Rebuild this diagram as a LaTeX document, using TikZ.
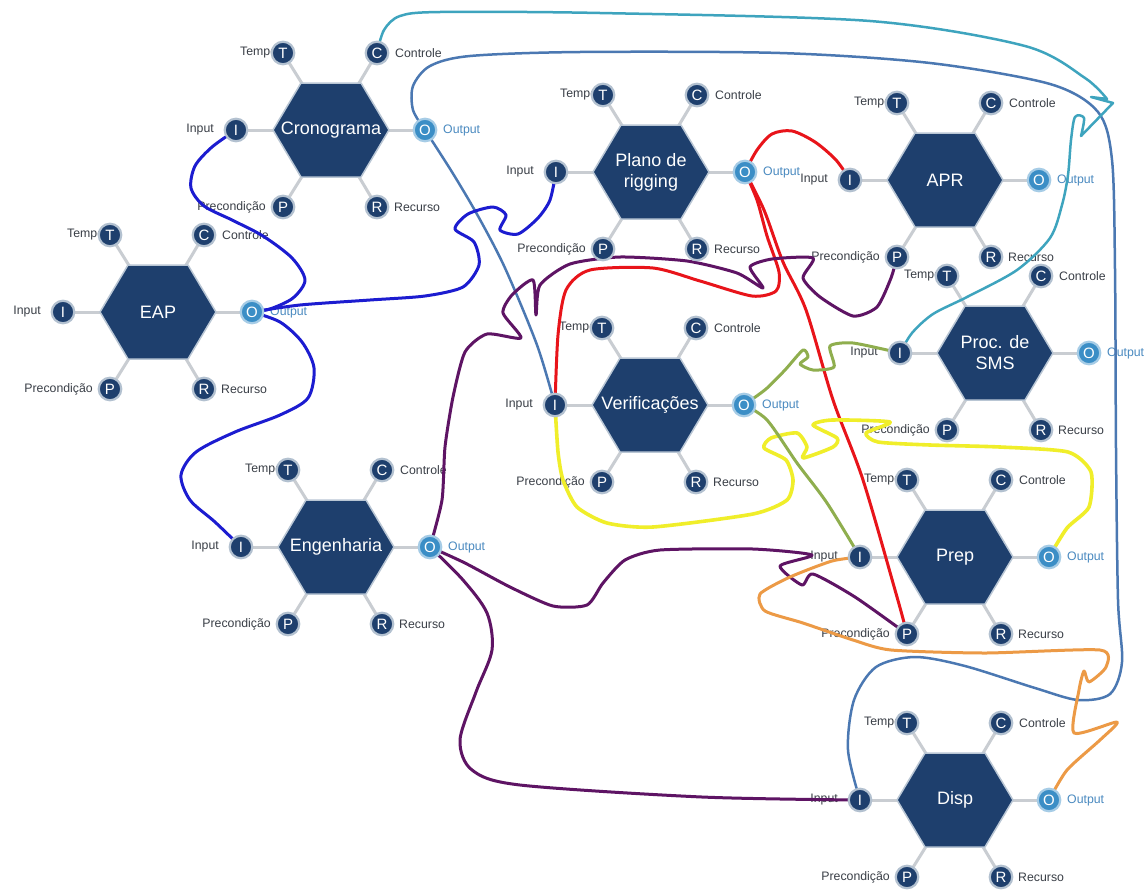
\documentclass[tikz,border=0pt]{standalone}
\usepackage{fontspec}
\setmainfont{Liberation Sans}

\pgfdeclarelayer{fg}
\pgfsetlayers{main,fg}

\definecolor{fnavy}{HTML}{1E3F6D}
\definecolor{hexrim}{HTML}{B9C6D4}
\definecolor{ringgray}{HTML}{B3C1D0}
\definecolor{outblue}{HTML}{3B8EC6}
\definecolor{outring}{HTML}{A6CCE6}
\definecolor{spokegray}{HTML}{C9CDD2}
\definecolor{lblgray}{HTML}{3A3F47}
\definecolor{outtxt}{HTML}{4A8AC0}
\definecolor{wblue}{HTML}{1C1CD0}
\definecolor{wsteel}{HTML}{4B78B2}
\definecolor{wteal}{HTML}{3EA4BE}
\definecolor{wred}{HTML}{E8141A}
\definecolor{wpurple}{HTML}{5E1464}
\definecolor{wyellow}{HTML}{F0EE2A}
\definecolor{wolive}{HTML}{8FAE4E}
\definecolor{worange}{HTML}{EC9A46}

\tikzset{
  spoke/.style={draw=spokegray, line width=3pt},
  hexa/.style={fill=fnavy, draw=hexrim, line width=1.5pt, line join=round},
  asp/.style={circle, fill=fnavy, draw=ringgray, line width=2.2pt, minimum size=22.5pt,
    inner sep=0pt, text=white, font=\fontsize{15}{15}\selectfont},
  aspo/.style={asp, fill=outblue, draw=outring},
  lbl/.style={font=\fontsize{12.3}{13}\selectfont, text=lblgray, inner sep=0pt},
  olbl/.style={lbl, text=outtxt},
  fname/.style={text=white, font=\fontsize{18}{21}\selectfont, align=center, inner sep=0pt},
  wire/.style={line width=3pt, line cap=round, line join=round},
  thinwire/.style={wire, line width=2.5pt},
}

% one function: hexagon, six aspect circles and their labels
% #1 name, #2 x, #3 y, #4 title
\newcommand\framfn[4]{%
  \begin{scope}[shift={(#2,#3)}]
    \foreach \sx/\sy in {-95/0, 94/0, -48/-77, 46/-77, -48/77, 46/77}
      \draw[spoke] (0,0) -- (\sx,\sy);
    \filldraw[hexa] (-58,0) -- (-30,-47) -- (30,-47) -- (58,0) -- (30,47) -- (-30,47) -- cycle;
    \node[fname] (#1) at (0,0) {#4};
    \node[lbl, anchor=east] (#1Il) at (-117,0) {Input};
    \node[olbl, anchor=west] (#1Ol) at (112,0) {Output};
    \node[lbl, anchor=west] (#1Tl) at (-91,-77) {Tempo};
    \node[lbl, anchor=west] (#1Cl) at (64,-77) {Controle};
    \node[lbl, anchor=east] (#1Pl) at (-65,77) {Precondição};
    \node[lbl, anchor=west] (#1Rl) at (63,77) {Recurso};
    \begin{pgfonlayer}{fg}
      \node[asp]  (#1I) at (-95,0)  {I};
      \node[aspo] (#1O) at (94,0)   {O};
      \node[asp]  (#1T) at (-48,-77) {T};
      \node[asp]  (#1C) at (46,-77) {C};
      \node[asp]  (#1P) at (-48,77) {P};
      \node[asp]  (#1R) at (46,77)  {R};
    \end{pgfonlayer}
  \end{scope}}

\begin{document}
\begin{tikzpicture}[x=1pt, y=-1pt]
\fill[white] (0,0) rectangle (1147,889);
\useasboundingbox (0,0) rectangle (1147,889);

\framfn{crono}{331}{130}{Cronograma}
\framfn{eap}{158}{312}{EAP}
\framfn{plano}{651}{172}{Plano de\\rigging}
\framfn{apr}{945}{180}{APR}
\framfn{sms}{995}{353}{Proc. de\\SMS}
\framfn{ver}{650}{405}{Verificações}
\framfn{eng}{336}{547}{Engenharia}
\framfn{prep}{955}{557}{Prep}
\framfn{disp}{955}{800}{Disp}

% Cronograma output to Disp input, around the top and right side
\draw[thinwire, wsteel] plot[smooth] coordinates {(cronoO) (413,110) (413,86) (430,66) (470,56)
  (580,52) (780,53) (930,63) (1050,84) (1098,112) (1112,160) (1115,270) (1116,450)
  (1118,600) (1122,662) (1110,694) (1078,700) (1035,688) (965,666) (915,657) (876,667)
  (854,700) (848,750) (dispI)};
% Cronograma output to Verificacoes input
\draw[thinwire, wsteel] plot[smooth] coordinates {(cronoO) (452,172) (478,216) (505,268)
  (537,345) (verI)};
% Cronograma control to Proc. de SMS input, with a hand-drawn arrowhead
\draw[thinwire, wteal] plot[smooth] coordinates {(cronoC) (384,30) (400,16) (440,12) (600,13)
  (870,21) (1025,46) (1085,78) (1107,99)} -- (1091,97) -- (1113,103) -- (1081,136)
  -- plot[smooth] coordinates {(1081,136) (1084,118) (1075,117) (1071,140) (1068,175)
  (1062,205) (1050,238) (1017,270) (967,297) (933,314) (912,333) (smsI)};

% EAP links
\draw[wire, wblue] plot[smooth] coordinates {(cronoI) (212,147) (195,166) (191,188) (204,206)
  (232,220) (263,236) (292,258) (305,280) (293,298) (270,309) (eapO)};
\draw[wire, wblue] plot[smooth, tension=0.45] coordinates {(eapO) (300,305) (370,300) (425,296)
  (463,287) (479,265) (474,242) (455,229) (468,214) (493,207) (506,215) (500,230)
  (518,234) (538,218) (550,200) (planoI)};
\draw[wire, wblue] plot[smooth] coordinates {(eapO) (280,322) (302,342) (314,368) (308,398)
  (280,415) (235,432) (196,452) (181,475) (190,500) (215,522) (engI)};

% Plano de rigging output
\draw[wire, wred] plot[smooth] coordinates {(planoO) (757,150) (772,134) (792,131) (815,142)
  (836,160) (aprI)};
\draw[wire, wred] plot[smooth, tension=0.45] coordinates {(planoO) (757,200) (767,236) (779,272)
  (776,291) (752,296) (700,281) (653,268) (590,270) (566,290) (558,335) (verI)};
\draw[wire, wred] plot[smooth] coordinates {(planoO) (764,210) (783,262) (806,310) (833,400)
  (863,480) (897,597) (prepP)};

% Engenharia output
\draw[wire, wpurple] plot[smooth, tension=0.4] coordinates {(engO) (442,500) (445,447) (453,397)
  (465,352) (487,334) (521,338) (503,313) (512,295) (533,280) (536,315) (540,285)
  (570,264) (620,257) (687,261) (737,273) (763,288) (750,267) (772,259) (813,258)
  (803,278) (820,297) (853,316) (877,307) (891,278) (aprP)};
\draw[wire, wpurple] plot[smooth, tension=0.4] coordinates {(engO) (465,563) (510,587) (553,606)
  (587,605) (603,583) (625,560) (660,550) (753,549) (812,555) (780,566) (802,585)
  (813,574) (855,597) (prepP)};
\draw[wire, wpurple] plot[smooth] coordinates {(engO) (463,580) (487,613) (492,650) (476,692)
  (460,740) (472,770) (520,785) (702,797) (dispI)};

% Verificacoes links
\draw[wire, wyellow, line width=3.6pt] plot[smooth, tension=0.4] coordinates {(verI) (558,452)
  (563,480) (577,507) (607,523) (653,527) (753,514) (787,500) (793,480) (786,460)
  (764,448) (771,438) (797,433) (807,447) (803,458) (833,447) (837,438) (813,425)
  (832,420) (890,422) (866,433) (878,442) (930,445) (1000,447) (1068,452) (1091,472)
  (1089,507) (1067,528) (prepO)};
\draw[wire, wolive] plot[smooth, tension=0.4] coordinates {(verO) (766,389) (785,370) (803,350)
  (808,357) (800,364) (813,370) (834,367) (830,346) (853,343) (smsI)};
\draw[wire, wolive] plot[smooth] coordinates {(verO) (767,420) (797,463) (827,503) (prepI)};

% Prep input to Disp output
\draw[wire, worange] plot[smooth, tension=0.4] coordinates {(prepI) (832,561) (790,577)
  (760,594) (765,611) (803,623) (853,640) (891,650) (985,653) (1100,650) (1106,667)
  (1089,682) (1084,671) (1079,690) (1074,733) (1117,722) (1100,740) (1067,770) (dispO)};
\end{tikzpicture}
\end{document}
